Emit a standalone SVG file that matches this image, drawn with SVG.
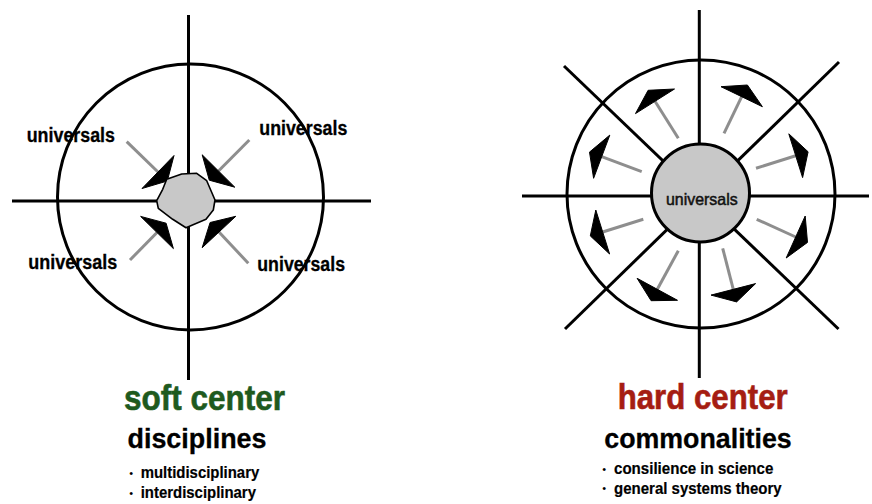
<svg xmlns="http://www.w3.org/2000/svg" width="872" height="504" viewBox="0 0 872 504">
<style>
.ax{stroke:#000;stroke-width:3;fill:none;stroke-linecap:butt}
.ring{stroke:#000;stroke-width:3;fill:none}
.shaft{stroke:#8e8e8e;stroke-width:3;fill:none}
.head{fill:#000;stroke:#000;stroke-width:1;stroke-linejoin:round;filter:url(#soft)}
.lbl{font-family:'Liberation Sans',Arial,Helvetica,sans-serif;font-weight:bold;font-size:20px;fill:#000;stroke:#000;stroke-width:0.3}
.inner{font-family:'Liberation Sans',Arial,Helvetica,sans-serif;font-size:16.5px;fill:#111;stroke:#111;stroke-width:0.5}
.title{font-family:'Liberation Sans',Arial,Helvetica,sans-serif;font-weight:bold;font-size:35px;stroke-width:0.6}
.sub{font-family:'Liberation Sans',Arial,Helvetica,sans-serif;font-weight:bold;font-size:27px;fill:#000;stroke:#000;stroke-width:0.3}
.bul{font-family:'Liberation Sans',Arial,Helvetica,sans-serif;font-weight:bold;font-size:17px;fill:#000;stroke:#000;stroke-width:0.2}
.dot{font-family:'Liberation Sans',Arial,Helvetica,sans-serif;font-size:11px;fill:#000}
</style>
<defs>
<filter id="soft" x="-20%" y="-20%" width="140%" height="140%">
<feGaussianBlur stdDeviation="0.7"/>
</filter>
</defs>
<rect width="872" height="504" fill="#fff"/>

<!-- LEFT: soft center -->
<g id="soft-frame">
<circle class="ring" cx="190.5" cy="197" r="133"/>
<line class="ax" x1="188.5" y1="15" x2="188.5" y2="380"/>
<line class="ax" x1="12" y1="201" x2="371" y2="201"/>
</g>
<g id="soft-connectors">
<line class="shaft" x1="126.7" y1="141.7" x2="158" y2="172"/>
<polygon class="head" points="174,155.5 142,188.5 167.3,181"/>
<line class="shaft" x1="249.3" y1="140" x2="218.5" y2="171"/>
<polygon class="head" points="202.2,154.8 234.8,187.2 209.3,180.2"/>
<line class="shaft" x1="130" y1="260" x2="157" y2="232.5"/>
<polygon class="head" points="140.6,216.4 173.4,248.6 166.1,223.2"/>
<line class="shaft" x1="248.3" y1="263.3" x2="219" y2="232"/>
<polygon class="head" points="235.8,216.3 202.2,247.7 210.1,222.5"/>
</g>
<g id="soft-core">
<polygon points="166.7,179.3 181.7,174 196.7,173.3 206.7,180.7 215,200 213.3,210 206,219.3 186,227.7 172.7,219.3 158.3,208.3 156.7,200.7 162.7,189.3" fill="#c8c8c8" stroke="#000" stroke-width="1.6" stroke-linejoin="round"/>
</g>
<g id="soft-labels">
<text class="lbl" x="26.7" y="141.7" textLength="88.3" lengthAdjust="spacingAndGlyphs">universals</text>
<text class="lbl" x="259.3" y="135" textLength="88" lengthAdjust="spacingAndGlyphs">universals</text>
<text class="lbl" x="28.3" y="269.3" textLength="89" lengthAdjust="spacingAndGlyphs">universals</text>
<text class="lbl" x="257.3" y="270.7" textLength="87.7" lengthAdjust="spacingAndGlyphs">universals</text>
</g>
<g id="soft-caption">
<text class="title" x="124" y="409.5" fill="#1e5a1e" stroke="#1e5a1e" textLength="161" lengthAdjust="spacingAndGlyphs">soft center</text>
<text class="sub" x="127.5" y="448" textLength="139" lengthAdjust="spacingAndGlyphs">disciplines</text>
<text class="dot" x="129.3" y="476.5">•</text>
<text class="bul" x="140.7" y="477.7" textLength="118.6" lengthAdjust="spacingAndGlyphs">multidisciplinary</text>
<text class="dot" x="129.3" y="496.5">•</text>
<text class="bul" x="140.7" y="497.7" textLength="115.3" lengthAdjust="spacingAndGlyphs">interdisciplinary</text>
</g>

<!-- RIGHT: hard center -->
<g id="hard-frame">
<circle class="ring" cx="701" cy="194" r="134"/>
<line class="ax" x1="699.3" y1="10" x2="699.3" y2="378"/>
<line class="ax" x1="522" y1="196" x2="869" y2="196"/>
<line class="ax" x1="564" y1="66" x2="838.5" y2="329"/>
<line class="ax" x1="839" y1="62" x2="565" y2="329"/>
</g>
<g id="hard-connectors">
<line class="shaft" x1="678.3" y1="138.3" x2="655" y2="101.3"/>
<polygon class="head" points="674.5,89 635.5,113.6 648.1,90.3"/>
<line class="shaft" x1="724" y1="133.3" x2="741.7" y2="96.7"/>
<polygon class="head" points="762.4,106.7 721,86.7 747.4,85"/>
<line class="shaft" x1="756" y1="168.3" x2="795.7" y2="155.7"/>
<polygon class="head" points="802.6,177.6 788.8,133.8 808.1,151.8"/>
<line class="shaft" x1="756.7" y1="219.3" x2="795.7" y2="237"/>
<polygon class="head" points="786.2,258 805.2,216 807.5,242.4"/>
<line class="shaft" x1="722.7" y1="248.3" x2="733.3" y2="289.3"/>
<polygon class="head" points="711,295.1 755.6,283.6 736.6,301.9"/>
<line class="shaft" x1="678.3" y1="250.7" x2="657.3" y2="289.3"/>
<polygon class="head" points="677.5,300.3 637.1,278.3 651.1,300.7"/>
<line class="shaft" x1="643.3" y1="219.3" x2="602.7" y2="232"/>
<polygon class="head" points="609.6,254 595.8,210 590.3,235.9"/>
<line class="shaft" x1="641.7" y1="171.7" x2="601.7" y2="156.7"/>
<polygon class="head" points="593.6,178.3 609.8,135.1 589.5,152.1"/>
</g>
<g id="hard-core">
<circle cx="700.5" cy="193" r="49" fill="#c8c8c8" stroke="#000" stroke-width="3"/>
<text class="inner" x="666" y="205" textLength="71.7" lengthAdjust="spacingAndGlyphs">universals</text>
</g>
<g id="hard-caption">
<text class="title" x="617.7" y="408.5" fill="#a51d12" stroke="#a51d12" textLength="170" lengthAdjust="spacingAndGlyphs">hard center</text>
<text class="sub" x="604.3" y="447.5" textLength="187.4" lengthAdjust="spacingAndGlyphs">commonalities</text>
<text class="dot" x="602.3" y="473">•</text>
<text class="bul" x="614" y="474.3" textLength="159.3" lengthAdjust="spacingAndGlyphs">consilience in science</text>
<text class="dot" x="602.3" y="492.3">•</text>
<text class="bul" x="614" y="493.5" textLength="167.7" lengthAdjust="spacingAndGlyphs">general systems theory</text>
</g>
</svg>
